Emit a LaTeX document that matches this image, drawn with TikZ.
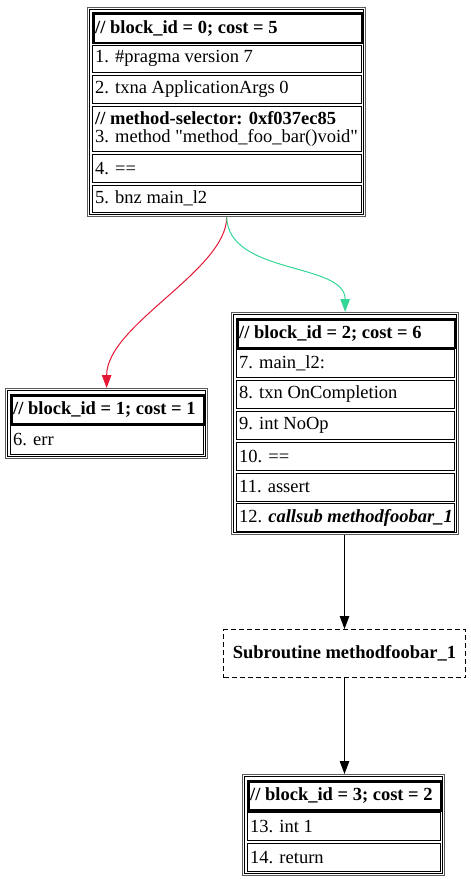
\documentclass[tikz,border=0pt]{standalone}
\usepackage{fontspec}
\setmainfont{Liberation Serif}[Ligatures=TeXOff]
\usetikzlibrary{arrows.meta}
\definecolor{edgered}{RGB}{228,24,54}
\definecolor{edgegreen}{RGB}{52,214,150}
\definecolor{framegray}{RGB}{90,90,90}
\begin{document}
\begin{tikzpicture}[x=1pt,y=-1pt,
  frame/.style={draw=framegray, line width=1.3pt, anchor=north west, inner sep=0pt},
  innerframe/.style={draw=black, line width=0.7pt},
  cell/.style={draw=black, line width=1pt, anchor=north west, inner sep=0pt},
  head/.style={cell, line width=2.8pt},
  txt/.style={anchor=west, inner xsep=3pt, inner ysep=0pt, align=left, font=\fontsize{18.5}{18}\selectfont},
  htxt/.style={txt, font=\fontsize{18.5}{18}\selectfont\bfseries},
  sub/.style={draw=black, line width=1pt, dash pattern=on 5pt off 3pt, anchor=north west, inner sep=0pt, font=\fontsize{18.5}{18}\selectfont\bfseries},
  edge/.style={line width=1pt, -{Triangle[length=13pt,width=9.5pt]}},
]
\useasboundingbox (0,0) rectangle (471,879);

% ---------- block 0 ----------
\node[frame, minimum width=278, minimum height=209] (b0) at (87,7) {};
\draw[innerframe] ([shift={(2.5,2.5)}]b0.north west) rectangle ([shift={(-2.5,-2.5)}]b0.south east);
\node[head, minimum width=269, minimum height=29.5] (b0h) at (92,12) {};
\node[htxt] (t0h) at (b0h.west) {// block\_id = 0; cost = 5};
\node[cell, minimum width=269, minimum height=27.5] (b0r1) at (92,44.5) {};
\node[txt] (t0r1) at (b0r1.west) {1. \#pragma version 7};
\node[cell, minimum width=269, minimum height=27.5] (b0r2) at (92,75) {};
\node[txt] (t0r2) at (b0r2.west) {2. txna ApplicationArgs 0};
\node[cell, minimum width=269, minimum height=45.5] (b0r3) at (92,105.5) {};
\node[txt] (t0r3) at (b0r3.west) {\textbf{// method-selector: 0xf037ec85}\\3. method "method\_foo\_bar()void"};
\node[cell, minimum width=269, minimum height=27.5] (b0r4) at (92,154) {};
\node[txt] (t0r4) at (b0r4.west) {4. ==};
\node[cell, minimum width=269, minimum height=27.5] (b0r5) at (92,184.5) {};
\node[txt] (t0r5) at (b0r5.west) {5. bnz main\_l2};

% ---------- block 1 ----------
\node[frame, minimum width=202, minimum height=70] (b1) at (5,388) {};
\draw[innerframe] ([shift={(2.5,2.5)}]b1.north west) rectangle ([shift={(-2.5,-2.5)}]b1.south east);
\node[head, minimum width=193, minimum height=29] (b1h) at (10,394) {};
\node[htxt] (t1h) at (b1h.west) {// block\_id = 1; cost = 1};
\node[cell, minimum width=193, minimum height=28.5] (b1r6) at (10,425) {};
\node[txt] (t1r6) at (b1r6.west) {6. err};

% ---------- block 2 ----------
\node[frame, minimum width=227, minimum height=222] (b2) at (231,312) {};
\draw[innerframe] ([shift={(2.5,2.5)}]b2.north west) rectangle ([shift={(-2.5,-2.5)}]b2.south east);
\node[head, minimum width=218, minimum height=28.5] (b2h) at (236,318) {};
\node[htxt] (t2h) at (b2h.west) {// block\_id = 2; cost = 6};
\node[cell, minimum width=218, minimum height=28] (b2r7) at (236,349) {};
\node[txt] (t2r7) at (b2r7.west) {7. main\_l2:};
\node[cell, minimum width=218, minimum height=28] (b2r8) at (236,379.5) {};
\node[txt] (t2r8) at (b2r8.west) {8. txn OnCompletion};
\node[cell, minimum width=218, minimum height=28] (b2r9) at (236,410.5) {};
\node[txt] (t2r9) at (b2r9.west) {9. int NoOp};
\node[cell, minimum width=218, minimum height=28] (b2r10) at (236,441.5) {};
\node[txt] (t2r10) at (b2r10.west) {10. ==};
\node[cell, minimum width=218, minimum height=28] (b2r11) at (236,472.5) {};
\node[txt] (t2r11) at (b2r11.west) {11. assert};
\node[cell, minimum width=218, minimum height=28] (b2r12) at (236,503) {};
\node[txt] (t2r12) at (b2r12.west) {12.\hspace{6pt}\textbf{\textit{callsub methodfoobar\_1}}};

% ---------- subroutine ----------
\node[sub, minimum width=242, minimum height=48] (sub) at (223,629) {Subroutine methodfoobar\_1};

% ---------- block 3 ----------
\node[frame, minimum width=202, minimum height=101] (b3) at (242,774) {};
\draw[innerframe] ([shift={(2.5,2.5)}]b3.north west) rectangle ([shift={(-2.5,-2.5)}]b3.south east);
\node[head, minimum width=193, minimum height=29] (b3h) at (247,780) {};
\node[htxt] (t3h) at (b3h.west) {// block\_id = 3; cost = 2};
\node[cell, minimum width=193, minimum height=28] (b3r13) at (247,812) {};
\node[txt] (t3r13) at (b3r13.west) {13. int 1};
\node[cell, minimum width=193, minimum height=28] (b3r14) at (247,843) {};
\node[txt] (t3r14) at (b3r14.west) {14. return};

% ---------- edges ----------
\draw[edge, edgered] (b0.south) .. controls +(0,53) and +(0,-63) .. (b1.north);
\draw[edge, edgegreen] (b0.south) .. controls +(2,58) and +(0,-50) .. (b2.north);
\draw[edge] (sub.north |- b2.south) -- (sub.north);
\draw[edge] (sub.south) -- (sub.south |- b3.north);
\end{tikzpicture}
\end{document}
